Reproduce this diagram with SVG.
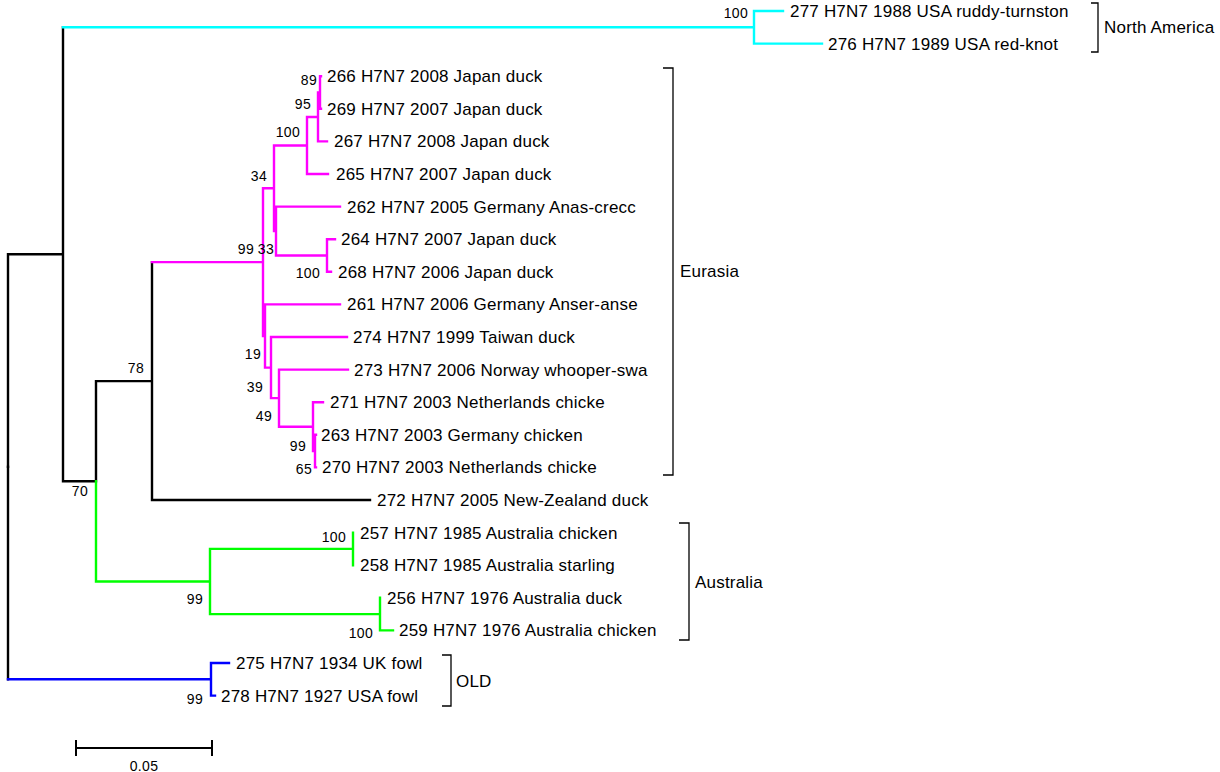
<svg xmlns="http://www.w3.org/2000/svg" width="1220" height="772" viewBox="0 0 1220 772">
<style>
.t{font-family:"Liberation Sans",Arial,sans-serif;font-size:17px;letter-spacing:0.2px;fill:#000}
.b{font-family:"Liberation Sans",Arial,sans-serif;font-size:14px;letter-spacing:0.3px;fill:#000;text-anchor:end}
.br{fill:none;stroke:#000;stroke-width:1.3}
.k{fill:none;stroke:#000;stroke-width:2.4;stroke-linecap:square}
.c{fill:none;stroke:#00FFFF;stroke-width:2.4;stroke-linecap:square}
.m{fill:none;stroke:#FF00FF;stroke-width:2.4;stroke-linecap:square}
.g{fill:none;stroke:#00FF00;stroke-width:2.4;stroke-linecap:square}
.u{fill:none;stroke:#0000FF;stroke-width:2.4;stroke-linecap:square}
</style>
<rect width="1220" height="772" fill="#fff"/>
<g id="connectors">
  <!-- black backbone -->
  <path class="k" d="M8,254.3V466.8 M8,254.3H63 M63,27.3V481.3 M63,481.3H96 M96,381.1V481.3 M96,381.1H152 M152,262.1V500 M152,500H370"/>
  <path class="k" d="M8,466.8V679.3"/>
  <!-- North America -->
  <path class="c" d="M63,27.3H754 M754,11V43.6 M754,11H783 M754,43.6H822"/>
  <!-- Eurasia -->
  <path class="m" d="M152,262.1H263 M263,188.3V336 M263,188.3H274 M274,145.5V231 M274,145.5H307 M307,117V174 M307,174H328 M307,117H318 M318,92.5V141.4 M318,141.4H327 M318,92.5H320 M320,76.2V108.8 M320,76.2H321 M320,108.8H321 M274,231H276 M276,206.6V255.5 M276,206.6H340 M276,255.5H327 M327,239.2V271.8 M327,239.2H335 M327,271.8H331 M263,336H265 M265,304.4V367.6 M265,304.4H340 M265,367.6H271 M271,337V398.1 M271,337H347 M271,398.1H279 M279,369.6V426.7 M279,369.6H348 M279,426.7H313 M313,402.2V451.1 M313,402.2H323 M313,451.1H315 M315,434.8V467.4 M315,434.8H316 M315,467.4H316"/>
  <!-- Australia -->
  <path class="g" d="M96,481.3V581.5 M96,581.5H210 M210,548.9V614.1 M210,548.9H353 M353,532.6V565.2 M210,614.1H380 M380,597.8V630.4 M380,630.4H393"/>
  <!-- OLD -->
  <path class="u" d="M8,679.3H211 M211,663V695.6 M211,663H229 M211,695.6H215"/>
</g>
<g id="bootstrap">
  <text class="b" x="748" y="18">100</text>
  <text class="b" x="317" y="85">89</text>
  <text class="b" x="311" y="109">95</text>
  <text class="b" x="300" y="137">100</text>
  <text class="b" x="267" y="181">34</text>
  <text class="b" x="254" y="254">99</text>
  <text class="b" x="274" y="254">33</text>
  <text class="b" x="320" y="278">100</text>
  <text class="b" x="261" y="359">19</text>
  <text class="b" x="263" y="392">39</text>
  <text class="b" x="272" y="421">49</text>
  <text class="b" x="306" y="451">99</text>
  <text class="b" x="312" y="474">65</text>
  <text class="b" x="144" y="373">78</text>
  <text class="b" x="88" y="496">70</text>
  <text class="b" x="346" y="542">100</text>
  <text class="b" x="203" y="604">99</text>
  <text class="b" x="373" y="638">100</text>
  <text class="b" x="203" y="704">99</text>
</g>
<g id="n277"><text class="t" x="790" y="17">277 H7N7 1988 USA ruddy-turnston</text></g>
<g id="n276"><text class="t" x="828" y="49.6">276 H7N7 1989 USA red-knot</text></g>
<g id="n266"><text class="t" x="327" y="82.2">266 H7N7 2008 Japan duck</text></g>
<g id="n269"><text class="t" x="327" y="114.8">269 H7N7 2007 Japan duck</text></g>
<g id="n267"><text class="t" x="334" y="147.4">267 H7N7 2008 Japan duck</text></g>
<g id="n265"><text class="t" x="336" y="180">265 H7N7 2007 Japan duck</text></g>
<g id="n262"><text class="t" x="347" y="212.6">262 H7N7 2005 Germany Anas-crecc</text></g>
<g id="n264"><text class="t" x="341" y="245.2">264 H7N7 2007 Japan duck</text></g>
<g id="n268"><text class="t" x="338" y="277.8">268 H7N7 2006 Japan duck</text></g>
<g id="n261"><text class="t" x="347" y="310.4">261 H7N7 2006 Germany Anser-anse</text></g>
<g id="n274"><text class="t" x="353" y="343">274 H7N7 1999 Taiwan duck</text></g>
<g id="n273"><text class="t" x="354" y="375.6">273 H7N7 2006 Norway whooper-swa</text></g>
<g id="n271"><text class="t" x="330" y="408.2">271 H7N7 2003 Netherlands chicke</text></g>
<g id="n263"><text class="t" x="321" y="440.8">263 H7N7 2003 Germany chicken</text></g>
<g id="n270"><text class="t" x="322" y="473.4">270 H7N7 2003 Netherlands chicke</text></g>
<g id="n272"><text class="t" x="377" y="506">272 H7N7 2005 New-Zealand duck</text></g>
<g id="n257"><text class="t" x="360" y="538.6">257 H7N7 1985 Australia chicken</text></g>
<g id="n258"><text class="t" x="360" y="571.2">258 H7N7 1985 Australia starling</text></g>
<g id="n256"><text class="t" x="387" y="603.8">256 H7N7 1976 Australia duck</text></g>
<g id="n259"><text class="t" x="399" y="636.4">259 H7N7 1976 Australia chicken</text></g>
<g id="n275"><text class="t" x="236" y="669">275 H7N7 1934 UK fowl</text></g>
<g id="n278"><text class="t" x="221" y="701.6">278 H7N7 1927 USA fowl</text></g>
<g id="grp-north-america">
  <path class="br" d="M1091,3H1098V52H1091"/>
  <text class="t" x="1104" y="33">North America</text>
</g>
<g id="grp-eurasia">
  <path class="br" d="M663,68H673V475H663"/>
  <text class="t" x="680" y="277">Eurasia</text>
</g>
<g id="grp-australia">
  <path class="br" d="M679,523H689V640H679"/>
  <text class="t" x="695" y="588">Australia</text>
</g>
<g id="grp-old">
  <path class="br" d="M442,655H451V706H442"/>
  <text class="t" x="456" y="687">OLD</text>
</g>
<g id="scale">
  <path class="k" d="M76,748H212 M76,740V756 M212,740V756" style="stroke-width:2;stroke-linecap:butt"/>
  <text class="b" x="144" y="771" style="text-anchor:middle">0.05</text>
</g>
</svg>
